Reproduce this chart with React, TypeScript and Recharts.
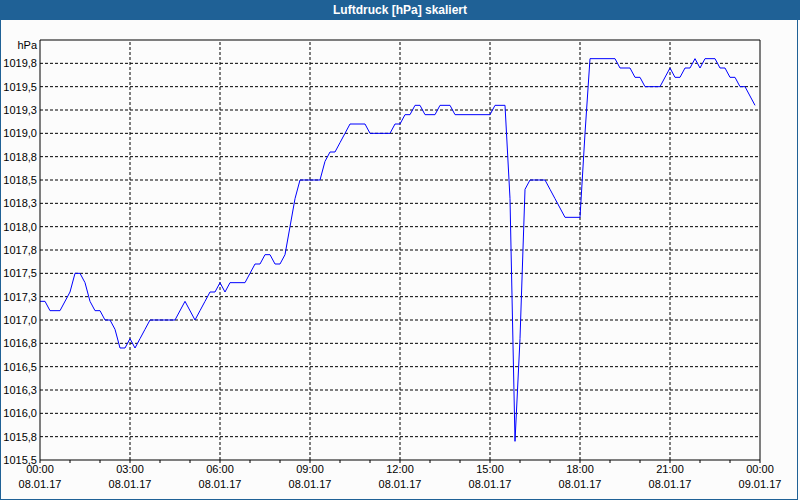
import React from 'react';
import { LineChart, Line, XAxis, YAxis, ReferenceLine } from 'recharts';

// time in minutes after 08.01.17 00:00, pressure in hPa
const minutes = [
  0, 10, 20, 40, 60, 70, 80, 90, 100, 110, 120, 130, 140, 150, 160, 170, 180, 190, 200, 210,
  220, 270, 290, 310, 320, 330, 340, 350, 360, 370, 380, 410, 420, 430, 440, 450, 460, 470, 480, 490,
  500, 510, 520, 560, 570, 580, 590, 600, 610, 620, 650, 660, 700, 710, 720, 730, 740, 750, 760, 770,
  790, 800, 820, 830, 900, 910, 930, 940, 950, 960, 970, 980, 1010, 1020, 1030, 1040, 1050, 1080, 1090, 1100,
  1150, 1160, 1180, 1190, 1200, 1210, 1240, 1260, 1270, 1280, 1290, 1300, 1310, 1320, 1330, 1350, 1360, 1370, 1380, 1390,
  1400, 1410, 1420, 1430,
];
const hpa = [
  1017.2, 1017.2, 1017.1, 1017.1, 1017.3, 1017.5, 1017.5, 1017.4, 1017.2, 1017.1, 1017.1, 1017.0, 1017.0, 1016.9, 1016.7, 1016.7, 1016.8, 1016.7, 1016.8, 1016.9,
  1017.0, 1017.0, 1017.2, 1017.0, 1017.1, 1017.2, 1017.3, 1017.3, 1017.4, 1017.3, 1017.4, 1017.4, 1017.5, 1017.6, 1017.6, 1017.7, 1017.7, 1017.6, 1017.6, 1017.7,
  1018.0, 1018.3, 1018.5, 1018.5, 1018.7, 1018.8, 1018.8, 1018.9, 1019.0, 1019.1, 1019.1, 1019.0, 1019.0, 1019.1, 1019.1, 1019.2, 1019.2, 1019.3, 1019.3, 1019.2,
  1019.2, 1019.3, 1019.3, 1019.2, 1019.2, 1019.3, 1019.3, 1018.3, 1015.7, 1016.8, 1018.4, 1018.5, 1018.5, 1018.4, 1018.3, 1018.2, 1018.1, 1018.1, 1019.0, 1019.8,
  1019.8, 1019.7, 1019.7, 1019.6, 1019.6, 1019.5, 1019.5, 1019.7, 1019.6, 1019.6, 1019.7, 1019.7, 1019.8, 1019.7, 1019.8, 1019.8, 1019.7, 1019.7, 1019.6, 1019.6,
  1019.5, 1019.5, 1019.4, 1019.3,
];

const yTicks = [
  1015.5, 1015.75, 1016, 1016.25, 1016.5, 1016.75, 1017, 1017.25, 1017.5, 1017.75,
  1018, 1018.25, 1018.5, 1018.75, 1019, 1019.25, 1019.5, 1019.75, 1020,
];
const yTickLabels = [
  '1015,5', '1015,8', '1016,0', '1016,3', '1016,5', '1016,8', '1017,0', '1017,3', '1017,5', '1017,8',
  '1018,0', '1018,3', '1018,5', '1018,8', '1019,0', '1019,3', '1019,5', '1019,8', 'hPa',
];

const xMajor = [0, 180, 360, 540, 720, 900, 1080, 1260, 1440];
const xTimeLabels = ['00:00', '03:00', '06:00', '09:00', '12:00', '15:00', '18:00', '21:00', '00:00'];
const xDateLabels = ['08.01.17', '08.01.17', '08.01.17', '08.01.17', '08.01.17', '08.01.17', '08.01.17', '08.01.17', '09.01.17'];
const xHourTicks = Array.from({ length: 25 }, (_, i) => i * 60);

const data = minutes.map((m, i) => ({ t: m, p: hpa[i] }));

const FONT = '"Liberation Sans", Arial, sans-serif';
const BLUE = '#1f6196';

const YTick = (props: any) => {
  const { x, y, payload } = props;
  const idx = yTicks.indexOf(payload.value);
  const top = payload.value === 1020;
  return (
    <text x={x} y={y} dy={top ? 9 : 4} textAnchor="end" fontSize={11} fontFamily={FONT} fill="#000">
      {yTickLabels[idx]}
    </text>
  );
};

const XTick = (props: any) => {
  const { x, y, payload } = props;
  const idx = xMajor.indexOf(payload.value);
  if (idx < 0) return null;
  return (
    <g>
      <text x={x} y={y} dy={8} textAnchor="middle" fontSize={11} fontFamily={FONT} fill="#000">
        {xTimeLabels[idx]}
      </text>
      <text x={x} y={y} dy={23} textAnchor="middle" fontSize={11} fontFamily={FONT} fill="#000">
        {xDateLabels[idx]}
      </text>
    </g>
  );
};

export default function App() {
  return (
    <div style={{ position: 'fixed', left: 0, top: 0, width: 800, height: 500, background: '#fcfcfc' }}>
      <div
        style={{
          position: 'absolute',
          left: 0,
          top: 0,
          width: 798,
          height: 500,
          boxSizing: 'border-box',
          borderLeft: `1px solid ${BLUE}`,
          borderRight: `1px solid ${BLUE}`,
          borderBottom: `1px solid ${BLUE}`,
        }}
      />
      <div
        style={{
          position: 'absolute',
          left: 0,
          top: 0,
          width: 800,
          height: 20,
          background: BLUE,
          color: '#fff',
          fontFamily: FONT,
          fontWeight: 'bold',
          fontSize: 12,
          lineHeight: '20px',
          textAlign: 'center',
        }}
      >
        Luftdruck [hPa] skaliert
      </div>
      <div style={{ position: 'absolute', left: 0, top: 0 }}>
        <LineChart width={800} height={500} data={data} margin={{ top: 40, right: 40, bottom: 0, left: 0 }}>
          <XAxis
            dataKey="t"
            type="number"
            domain={[0, 1440]}
            ticks={xHourTicks}
            interval={0}
            tickSize={3}
            tickMargin={2}
            height={40}
            stroke="#000"
            tick={<XTick />}
          />
          <YAxis
            type="number"
            domain={[1015.5, 1020]}
            ticks={yTicks}
            interval={0}
            width={40}
            tickLine={false}
            tickSize={0}
            tickMargin={3}
            stroke="#000"
            tick={<YTick />}
          />
          {yTicks.slice(1, -1).map((v) => (
            <ReferenceLine key={`y${v}`} y={v} stroke="#000" strokeDasharray="3 2" />
          ))}
          {xMajor.slice(1, -1).map((v) => (
            <ReferenceLine key={`x${v}`} x={v} stroke="#000" strokeDasharray="3 2" />
          ))}
          <ReferenceLine y={1020} stroke="#000" ifOverflow="visible" />
          <ReferenceLine x={1440} stroke="#000" ifOverflow="visible" />
          <Line dataKey="p" type="linear" stroke="#0000ff" strokeWidth={1} dot={false} isAnimationActive={false} />
        </LineChart>
      </div>
    </div>
  );
}
